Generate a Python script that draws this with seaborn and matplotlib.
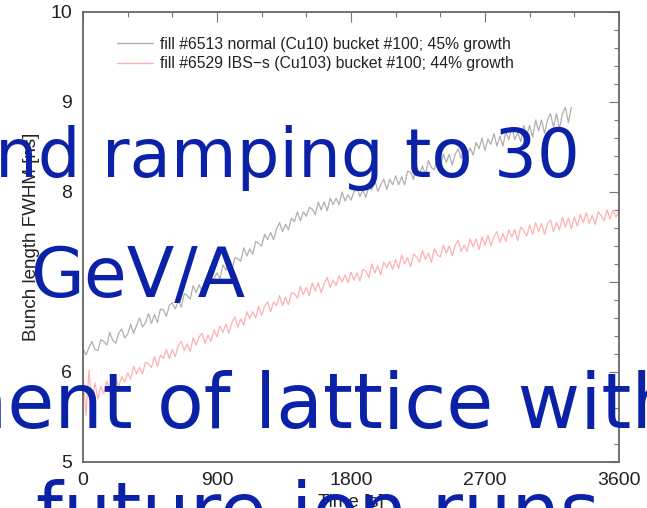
import matplotlib
matplotlib.use("Agg")
import matplotlib.pyplot as plt
from matplotlib.ticker import MultipleLocator
import seaborn as sns
import pandas as pd
import numpy as np

# ---------------- data ----------------
normal_label = "fill #6513 normal (Cu10) bucket #100; 45% growth"
ibs_label = "fill #6529 IBS\u2212s (Cu103) bucket #100; 44% growth"

normal_time_step = 20
normal_values = [
    6.26, 6.19, 6.27, 6.34, 6.25, 6.24, 6.36, 6.34, 6.30, 6.44, 6.35, 6.32, 6.43, 6.48, 6.38,
    6.42, 6.53, 6.43, 6.52, 6.60, 6.50, 6.55, 6.65, 6.54, 6.64, 6.55, 6.70, 6.69, 6.62, 6.74,
    6.77, 6.70, 6.79, 6.72, 6.87, 6.85, 6.81, 6.96, 6.88, 6.97, 6.89, 7.01, 7.07, 6.98, 7.04,
    7.10, 7.04, 7.19, 7.13, 7.21, 7.13, 7.27, 7.26, 7.23, 7.38, 7.29, 7.37, 7.31, 7.45, 7.43,
    7.40, 7.53, 7.47, 7.55, 7.47, 7.59, 7.66, 7.56, 7.64, 7.58, 7.71, 7.67, 7.78, 7.68, 7.78,
    7.73, 7.83, 7.81, 7.75, 7.89, 7.80, 7.89, 7.79, 7.93, 7.86, 7.93, 7.86, 8.00, 7.90, 7.97,
    7.91, 8.00, 8.05, 7.95, 8.02, 7.94, 8.07, 8.02, 8.13, 8.01, 8.08, 8.14, 8.03, 8.14, 8.08,
    8.18, 8.08, 8.17, 8.08, 8.23, 8.22, 8.14, 8.29, 8.20, 8.29, 8.19, 8.35, 8.27, 8.25, 8.38,
    8.27, 8.42, 8.33, 8.42, 8.30, 8.42, 8.48, 8.37, 8.53, 8.41, 8.49, 8.41, 8.55, 8.48, 8.60,
    8.46, 8.59, 8.53, 8.65, 8.51, 8.62, 8.51, 8.67, 8.58, 8.72, 8.58, 8.66, 8.56, 8.74, 8.63,
    8.74, 8.61, 8.80, 8.68, 8.80, 8.65, 8.80, 8.87, 8.72, 8.87, 8.70, 8.87, 8.94, 8.77, 8.94,
]

ibs_time_step = 20
ibs_values = [
    5.98, 5.52, 6.02, 5.60, 5.88, 5.70, 5.84, 5.76, 5.90, 5.80, 5.86, 5.93, 5.84, 5.95, 5.89,
    5.99, 5.92, 6.06, 5.98, 6.05, 5.98, 6.11, 6.09, 6.05, 6.17, 6.06, 6.19, 6.15, 6.25, 6.15,
    6.25, 6.17, 6.30, 6.34, 6.24, 6.31, 6.23, 6.38, 6.30, 6.39, 6.43, 6.32, 6.41, 6.34, 6.47,
    6.39, 6.51, 6.44, 6.53, 6.43, 6.55, 6.61, 6.50, 6.59, 6.52, 6.67, 6.59, 6.67, 6.60, 6.73,
    6.63, 6.73, 6.78, 6.67, 6.78, 6.74, 6.85, 6.74, 6.83, 6.75, 6.88, 6.87, 6.82, 6.95, 6.86,
    6.94, 6.85, 6.99, 6.90, 6.99, 6.88, 6.98, 7.05, 6.94, 7.02, 6.96, 7.07, 7.00, 7.08, 6.99,
    7.11, 7.02, 7.10, 7.01, 7.14, 7.12, 7.05, 7.20, 7.10, 7.18, 7.08, 7.22, 7.16, 7.23, 7.14,
    7.25, 7.15, 7.30, 7.20, 7.27, 7.17, 7.31, 7.28, 7.22, 7.35, 7.25, 7.32, 7.22, 7.37, 7.30,
    7.28, 7.41, 7.32, 7.40, 7.29, 7.41, 7.46, 7.34, 7.41, 7.34, 7.48, 7.39, 7.48, 7.36, 7.50,
    7.41, 7.52, 7.40, 7.50, 7.56, 7.44, 7.54, 7.45, 7.58, 7.50, 7.58, 7.46, 7.61, 7.57, 7.51,
    7.63, 7.53, 7.66, 7.56, 7.65, 7.53, 7.65, 7.69, 7.56, 7.66, 7.58, 7.72, 7.61, 7.71, 7.59,
    7.72, 7.62, 7.75, 7.66, 7.77, 7.65, 7.74, 7.64, 7.78, 7.74, 7.68, 7.80, 7.70, 7.80, 7.72,
    7.80,
]

x_ticks = [0, 900, 1800, 2700, 3600]
y_ticks = [5, 6, 7, 8, 9, 10]
y_tick_labels = ["5", "6", "", "8", "9", "10"]

overlay_lines = ["nd ramping to 30", "0", "GeV/A", "ment of lattice with", "future ion runs"]

# ---------------- build table ----------------
df = pd.concat([
    pd.DataFrame({"Time": np.arange(len(normal_values)) * normal_time_step,
                  "value": normal_values, "series": normal_label}),
    pd.DataFrame({"Time": np.arange(len(ibs_values)) * ibs_time_step,
                  "value": ibs_values, "series": ibs_label}),
], ignore_index=True)

sns.set_theme(style="white")
plt.rcParams["font.family"] = ["Liberation Sans", "DejaVu Sans"]

W, H = 647, 508
fig = plt.figure(figsize=(W / 100, H / 100), dpi=100)
ax = fig.add_axes([83 / W, 1 - 462 / H, (619 - 83) / W, (462 - 12) / H])

sns.lineplot(data=df, x="Time", y="value", hue="series", estimator=None,
             palette={normal_label: "#b0b0b0", ibs_label: "#ffb0b0"},
             linewidth=0.9, ax=ax, legend=True)

ax.set_xlim(0, 3600)
ax.set_ylim(5, 10)
ax.set_xticks(x_ticks)
ax.set_yticks(y_ticks)
ax.set_yticklabels(y_tick_labels)
ax.xaxis.set_minor_locator(MultipleLocator(300))
ax.yaxis.set_minor_locator(MultipleLocator(0.2))
ax.tick_params(which="both", direction="in", top=True, right=True,
               color="#777777", width=0.8)
ax.tick_params(which="major", length=7, labelsize=14, labelcolor="#222222")
ax.tick_params(which="minor", length=3.5)
ax.tick_params(axis="y", which="major", pad=8)
ax.tick_params(axis="x", which="major", pad=7)
for s in ax.spines.values():
    s.set_color("#666666")
    s.set_linewidth(1.3)

ax.set_xlabel("Time [s]", fontsize=13.5, color="#222222", labelpad=4)
ax.set_ylabel("Bunch length FWHM [ns]", fontsize=13.5, color="#222222", labelpad=7)

leg = ax.legend(loc="upper left", bbox_to_anchor=(0.063, 0.945), frameon=False,
                fontsize=11.3, handlelength=2.3, handletextpad=0.45,
                labelspacing=0.28, borderaxespad=0, borderpad=0)
for h in leg.get_lines():
    h.set_linewidth(1.0)
for t in leg.get_texts():
    t.set_color("#222222")

# ---------------- slide text overlaid on top of the chart ----------------
blue = "#0b22a8"
big = dict(color=blue, family=["DejaVu Sans"], zorder=10)
fig.text(-5 / W, 1 - 177 / H, overlay_lines[0], fontsize=48.5, va="baseline", ha="left", **big)
fig.text(-16 / W, 1 - 297 / H, overlay_lines[1], fontsize=50, va="baseline", ha="right", **big)
fig.text(30 / W, 1 - 297 / H, overlay_lines[2], fontsize=50, va="baseline", ha="left", **big)
fig.text(-67 / W, 1 - 428 / H, overlay_lines[3], fontsize=55, va="baseline", ha="left", **big)
fig.text(36 / W, 1 - 537 / H, overlay_lines[4], fontsize=55, va="baseline", ha="left", **big)

fig.savefig("out.png", dpi=100)
